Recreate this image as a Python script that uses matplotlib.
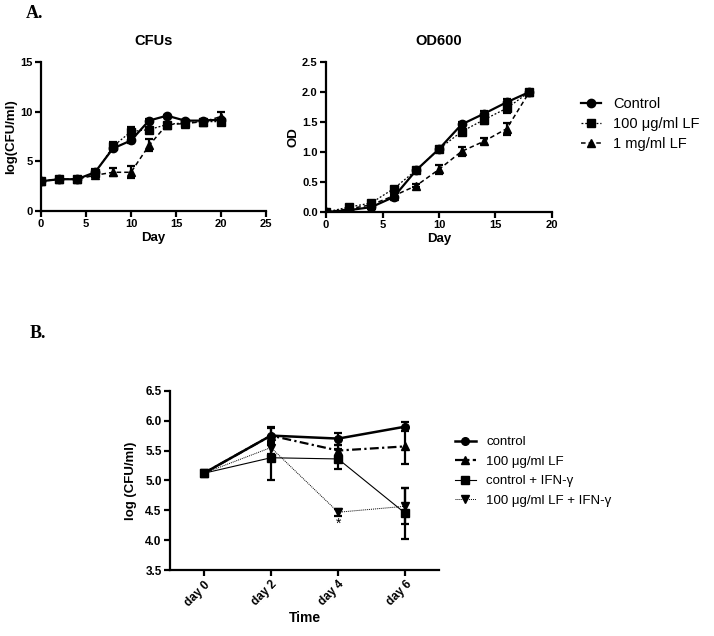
import matplotlib
matplotlib.use("Agg")
import matplotlib.pyplot as plt
from matplotlib.lines import Line2D
import numpy as np

plt.rcParams['font.family'] = ['Liberation Sans', 'DejaVu Sans']

# ---------- Data ----------
cfu_days = [0, 2, 4, 6, 8, 10, 12, 14, 16, 18, 20]
cfu_control = [3.0, 3.2, 3.2, 3.9, 6.3, 7.1, 9.1, 9.6, 9.1, 9.1, 9.2]
cfu_control_err = [0.1, 0.1, 0.1, 0.3, 0.3, 0.3, 0.15, 0.1, 0.1, 0.1, 0.2]
cfu_lf100 = [3.0, 3.2, 3.2, 3.8, 6.5, 8.0, 8.2, 8.7, 8.9, 9.0, 9.0]
cfu_lf100_err = [0.1, 0.1, 0.2, 0.2, 0.4, 0.5, 0.2, 0.1, 0.2, 0.1, 0.3]
cfu_lf1mg = [3.0, 3.2, 3.2, 3.6, 3.9, 3.9, 6.6, 8.7, 8.8, 9.0, 9.5]
cfu_lf1mg_err = [0.1, 0.1, 0.2, 0.2, 0.4, 0.6, 0.6, 0.2, 0.3, 0.2, 0.5]

od_days = [0, 2, 4, 6, 8, 10, 12, 14, 16, 18]
od_control = [0.0, 0.03, 0.08, 0.25, 0.70, 1.05, 1.46, 1.64, 1.83, 2.0]
od_control_err = [0.01, 0.01, 0.02, 0.03, 0.04, 0.04, 0.04, 0.05, 0.06, 0.01]
od_lf100 = [0.0, 0.08, 0.15, 0.39, 0.70, 1.05, 1.34, 1.54, 1.73, 2.0]
od_lf100_err = [0.01, 0.02, 0.03, 0.03, 0.04, 0.04, 0.05, 0.08, 0.08, 0.01]
od_lf1mg = [0.0, 0.05, 0.12, 0.27, 0.44, 0.71, 1.01, 1.18, 1.39, 2.0]
od_lf1mg_err = [0.01, 0.01, 0.02, 0.02, 0.02, 0.08, 0.08, 0.05, 0.10, 0.01]

b_labels = ["day 0", "day 2", "day 4", "day 6"]
b_control = [5.12, 5.75, 5.70, 5.90]
b_control_err = [0.02, 0.15, 0.10, 0.07]
b_lf100 = [5.12, 5.75, 5.50, 5.57]
b_lf100_err = [0.02, 0.12, 0.10, 0.30]
b_ifn = [5.12, 5.38, 5.36, 4.45]
b_ifn_err = [0.02, 0.37, 0.17, 0.43]
b_lf100_ifn = [5.12, 5.55, 4.47, 4.57]
b_lf100_ifn_err = [0.02, 0.10, 0.06, 0.30]

legend_a = ["Control", "100 μg/ml LF", "1 mg/ml LF"]
legend_b = ["control", "100 μg/ml LF", "control + IFN-γ", "100 μg/ml LF + IFN-γ"]

# ---------- Figure ----------
fig = plt.figure(figsize=(7.14, 6.36), dpi=100)

def style_axes(ax, tick_fs=8):
    for s in ['top', 'right']:
        ax.spines[s].set_visible(False)
    for s in ['left', 'bottom']:
        ax.spines[s].set_linewidth(1.6)
    ax.tick_params(width=1.6, length=4, labelsize=tick_fs, direction='out', pad=2)
    for lbl in ax.get_xticklabels() + ax.get_yticklabels():
        lbl.set_fontweight('bold')

eb_kw = dict(color='black', ecolor='black', elinewidth=1.6, capsize=3, capthick=1.6)

ls_ctrl = dict(marker='o', ms=6, lw=1.6, ls='-')
ls_100 = dict(marker='s', ms=6, lw=0.9, ls=(0, (1.5, 1.5)))
ls_1mg = dict(marker='^', ms=6, lw=1.1, ls=(0, (3, 2)))

# Panel A1: CFUs
ax1 = fig.add_axes([0.0574, 0.6682, 0.3151, 0.2343])
ax1.errorbar(cfu_days, cfu_control, yerr=cfu_control_err, **ls_ctrl, **eb_kw)
ax1.errorbar(cfu_days, cfu_lf100, yerr=cfu_lf100_err, **ls_100, **eb_kw)
ax1.errorbar(cfu_days, cfu_lf1mg, yerr=cfu_lf1mg_err, **ls_1mg, **eb_kw)
ax1.set_xlim(0, 25)
ax1.set_ylim(0, 15)
ax1.set_xticks([0, 5, 10, 15, 20, 25])
ax1.set_yticks([0, 5, 10, 15])
ax1.set_title("CFUs", fontsize=10.5, fontweight='bold', pad=12)
ax1.set_xlabel("Day", fontsize=9.5, fontweight='bold', labelpad=2)
ax1.set_ylabel("log(CFU/ml)", fontsize=9.5, fontweight='bold', labelpad=2)
style_axes(ax1)

# Panel A2: OD600
ax2 = fig.add_axes([0.4566, 0.6667, 0.3165, 0.2358])
ax2.errorbar(od_days, od_control, yerr=od_control_err, **ls_ctrl, **eb_kw)
ax2.errorbar(od_days, od_lf100, yerr=od_lf100_err, **ls_100, **eb_kw)
ax2.errorbar(od_days, od_lf1mg, yerr=od_lf1mg_err, **ls_1mg, **eb_kw)
ax2.set_xlim(0, 20)
ax2.set_ylim(0, 2.5)
ax2.set_xticks([0, 5, 10, 15, 20])
ax2.set_yticks([0, 0.5, 1.0, 1.5, 2.0, 2.5])
ax2.set_yticklabels(["0.0", "0.5", "1.0", "1.5", "2.0", "2.5"])
ax2.set_title("OD600", fontsize=10.5, fontweight='bold', pad=12)
ax2.set_xlabel("Day", fontsize=9.5, fontweight='bold', labelpad=2)
ax2.set_ylabel("OD", fontsize=9.5, fontweight='bold', labelpad=2)
style_axes(ax2)

ha = [Line2D([], [], color='black', **ls_ctrl),
      Line2D([], [], color='black', **ls_100),
      Line2D([], [], color='black', **ls_1mg)]
fig.legend(ha, legend_a, loc='upper left', bbox_to_anchor=(0.795, 0.868),
           frameon=False, fontsize=10.5, handlelength=1.4, handletextpad=0.8, labelspacing=0.4)

# Panel B
axb = fig.add_axes([0.2381, 0.1033, 0.3768, 0.2824])
x = np.arange(len(b_labels))
lb1 = dict(marker='o', ms=5.5, lw=1.8, ls='-')
lb2 = dict(marker='^', ms=5.5, lw=1.6, ls=(0, (4, 1.5, 1, 1.5)))
lb3 = dict(marker='s', ms=5.5, lw=0.8, ls='-')
lb4 = dict(marker='v', ms=5.5, lw=0.7, ls=(0, (1, 1)))
axb.errorbar(x, b_control, yerr=b_control_err, **lb1, **eb_kw)
axb.errorbar(x, b_lf100, yerr=b_lf100_err, **lb2, **eb_kw)
axb.errorbar(x, b_ifn, yerr=b_ifn_err, **lb3, **eb_kw)
axb.errorbar(x, b_lf100_ifn, yerr=b_lf100_ifn_err, **lb4, **eb_kw)
axb.text(2, 4.28, "*", ha='center', va='center', fontsize=10)
axb.set_xlim(-0.5, 3.5)
axb.set_ylim(3.5, 6.5)
axb.set_xticks(x)
axb.set_xticklabels(b_labels, rotation=45, ha='right', rotation_mode='anchor')
axb.set_yticks([3.5, 4.0, 4.5, 5.0, 5.5, 6.0, 6.5])
axb.set_yticklabels(["3.5", "4.0", "4.5", "5.0", "5.5", "6.0", "6.5"])
axb.set_xlabel("Time", fontsize=10, fontweight='bold', labelpad=2)
axb.set_ylabel("log (CFU/ml)", fontsize=9.5, fontweight='bold', labelpad=6)
style_axes(axb, tick_fs=8.5)

hb = [Line2D([], [], color='black', **lb1), Line2D([], [], color='black', **lb2),
      Line2D([], [], color='black', **lb3), Line2D([], [], color='black', **lb4)]
fig.legend(hb, legend_b, loc='upper left', bbox_to_anchor=(0.62, 0.333),
           frameon=False, fontsize=9.5, handlelength=1.6, handletextpad=0.8, labelspacing=0.55)

fig.text(0.036, 0.978, "A.", fontsize=13, fontweight='bold', family='Liberation Serif', va='center')
fig.text(0.041, 0.476, "B.", fontsize=13, fontweight='bold', family='Liberation Serif', va='center')

fig.savefig("out.png", dpi=100)
